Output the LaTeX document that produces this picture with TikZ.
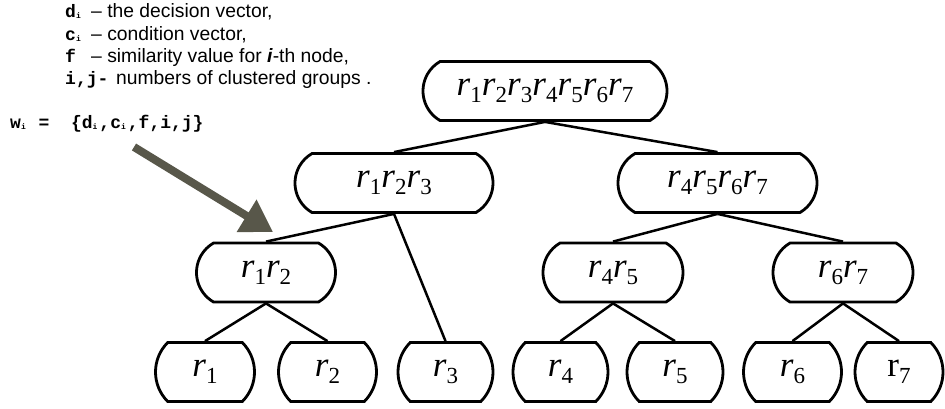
\documentclass[tikz,border=0pt]{standalone}
\usepackage{fontspec}
\setmainfont{Liberation Serif}
\setsansfont{Liberation Sans}
\setmonofont{Liberation Mono}
\usetikzlibrary{shapes.misc,arrows.meta}
\newcommand\ri[1]{\textit{r}\raisebox{-7pt}{\fontsize{23}{23}\selectfont #1}}
\newcommand\ru[1]{\textup{r}\raisebox{-7pt}{\fontsize{23}{23}\selectfont #1}}
\newcommand\sbi[1]{\makebox[0.38em][l]{\raisebox{-1pt}{\fontsize{8}{8}\selectfont #1}}}
\definecolor{arrowgray}{RGB}{88,87,74}
\tikzset{
  box/.style={draw, line width=2.8pt, rounded rectangle, rounded rectangle arc length=120,
    minimum height=59pt, inner sep=0pt, font=\fontsize{35}{35}\selectfont},
  leaf/.style={box, rounded rectangle arc length=90},
  edge/.style={line width=2.5pt},
  mono/.style={anchor=base west, inner sep=0pt, font=\ttfamily\bfseries\fontsize{18}{18}\selectfont},
  desc/.style={anchor=base west, inner sep=0pt, font=\sffamily\fontsize{19.3}{19.3}\selectfont},
  bigarrow/.style={draw=arrowgray, line width=8pt, -{Triangle[width=36pt,length=31pt]}, fill=arrowgray}
}
\begin{document}
\begin{tikzpicture}[x=1pt,y=-1pt]
\useasboundingbox (0,0) rectangle (945,408);
% tree nodes
\node[box, minimum width=244pt] (root) at (545,91) {\ri1\ri2\ri3\ri4\ri5\ri6\ri7};
\node[box, minimum width=198pt] (n123) at (394,183) {\ri1\ri2\ri3};
\node[box, minimum width=199pt] (n4567) at (717.5,183) {\ri4\ri5\ri6\ri7};
\node[box, minimum width=139pt] (n12) at (266,272.5) {\ri1\ri2};
\node[box, minimum width=140pt] (n45) at (613,272.5) {\ri4\ri5};
\node[box, minimum width=140pt] (n67) at (843,272.5) {\ri6\ri7};
\node[leaf, minimum width=99pt] (l1) at (205,372) {\ri1};
\node[leaf, minimum width=98pt] (l2) at (327.5,372) {\ri2};
\node[leaf, minimum width=95pt] (l3) at (445.5,372) {\ri3};
\node[leaf, minimum width=95pt] (l4) at (560.5,372) {\ri4};
\node[leaf, minimum width=96pt] (l5) at (675,372) {\ri5};
\node[leaf, minimum width=98pt] (l6) at (792.5,372) {\ri6};
\node[leaf, minimum width=88pt] (l7) at (899,372) {\ru7};
% edges
\draw[edge] (root.south) -- (n123.north);
\draw[edge] (root.south) -- (n4567.north);
\draw[edge] (n123.south) -- (n12.north);
\draw[edge] (n123.south) -- (l3.north);
\draw[edge] (n4567.south) -- (n45.north);
\draw[edge] (n4567.south) -- (n67.north);
\draw[edge] (n12.south) -- (l1.north);
\draw[edge] (n12.south) -- (l2.north);
\draw[edge] (n45.south) -- (l4.north);
\draw[edge] (n45.south) -- (l5.north);
\draw[edge] (n67.south) -- (l6.north);
\draw[edge] (n67.south) -- (l7.north);
% legend
\node[mono] (m1) at (65,17) {d\sbi{i}};
\node[desc] (t1) at (91,17) {– the decision vector,};
\node[mono] (m2) at (65,40) {c\sbi{i}};
\node[desc] (t2) at (91,40) {– condition vector,};
\node[mono] (m3) at (65,62) {f};
\node[desc] (t3) at (91,62) {– similarity value for \textbf{\textit{i}}-th node,};
\node[mono] (m4) at (65,84) {i,j-};
\node[desc] (t4) at (116,84) {numbers of clustered groups .};
\node[mono] (w) at (10,128) {w\sbi{i}~=~~\{d\sbi{i},c\sbi{i},f,i,j\}};
% arrow
\coordinate (as) at (134,147);
\coordinate (ae) at (273,232);
\draw[bigarrow] (as) -- (ae);
\end{tikzpicture}
\end{document}
